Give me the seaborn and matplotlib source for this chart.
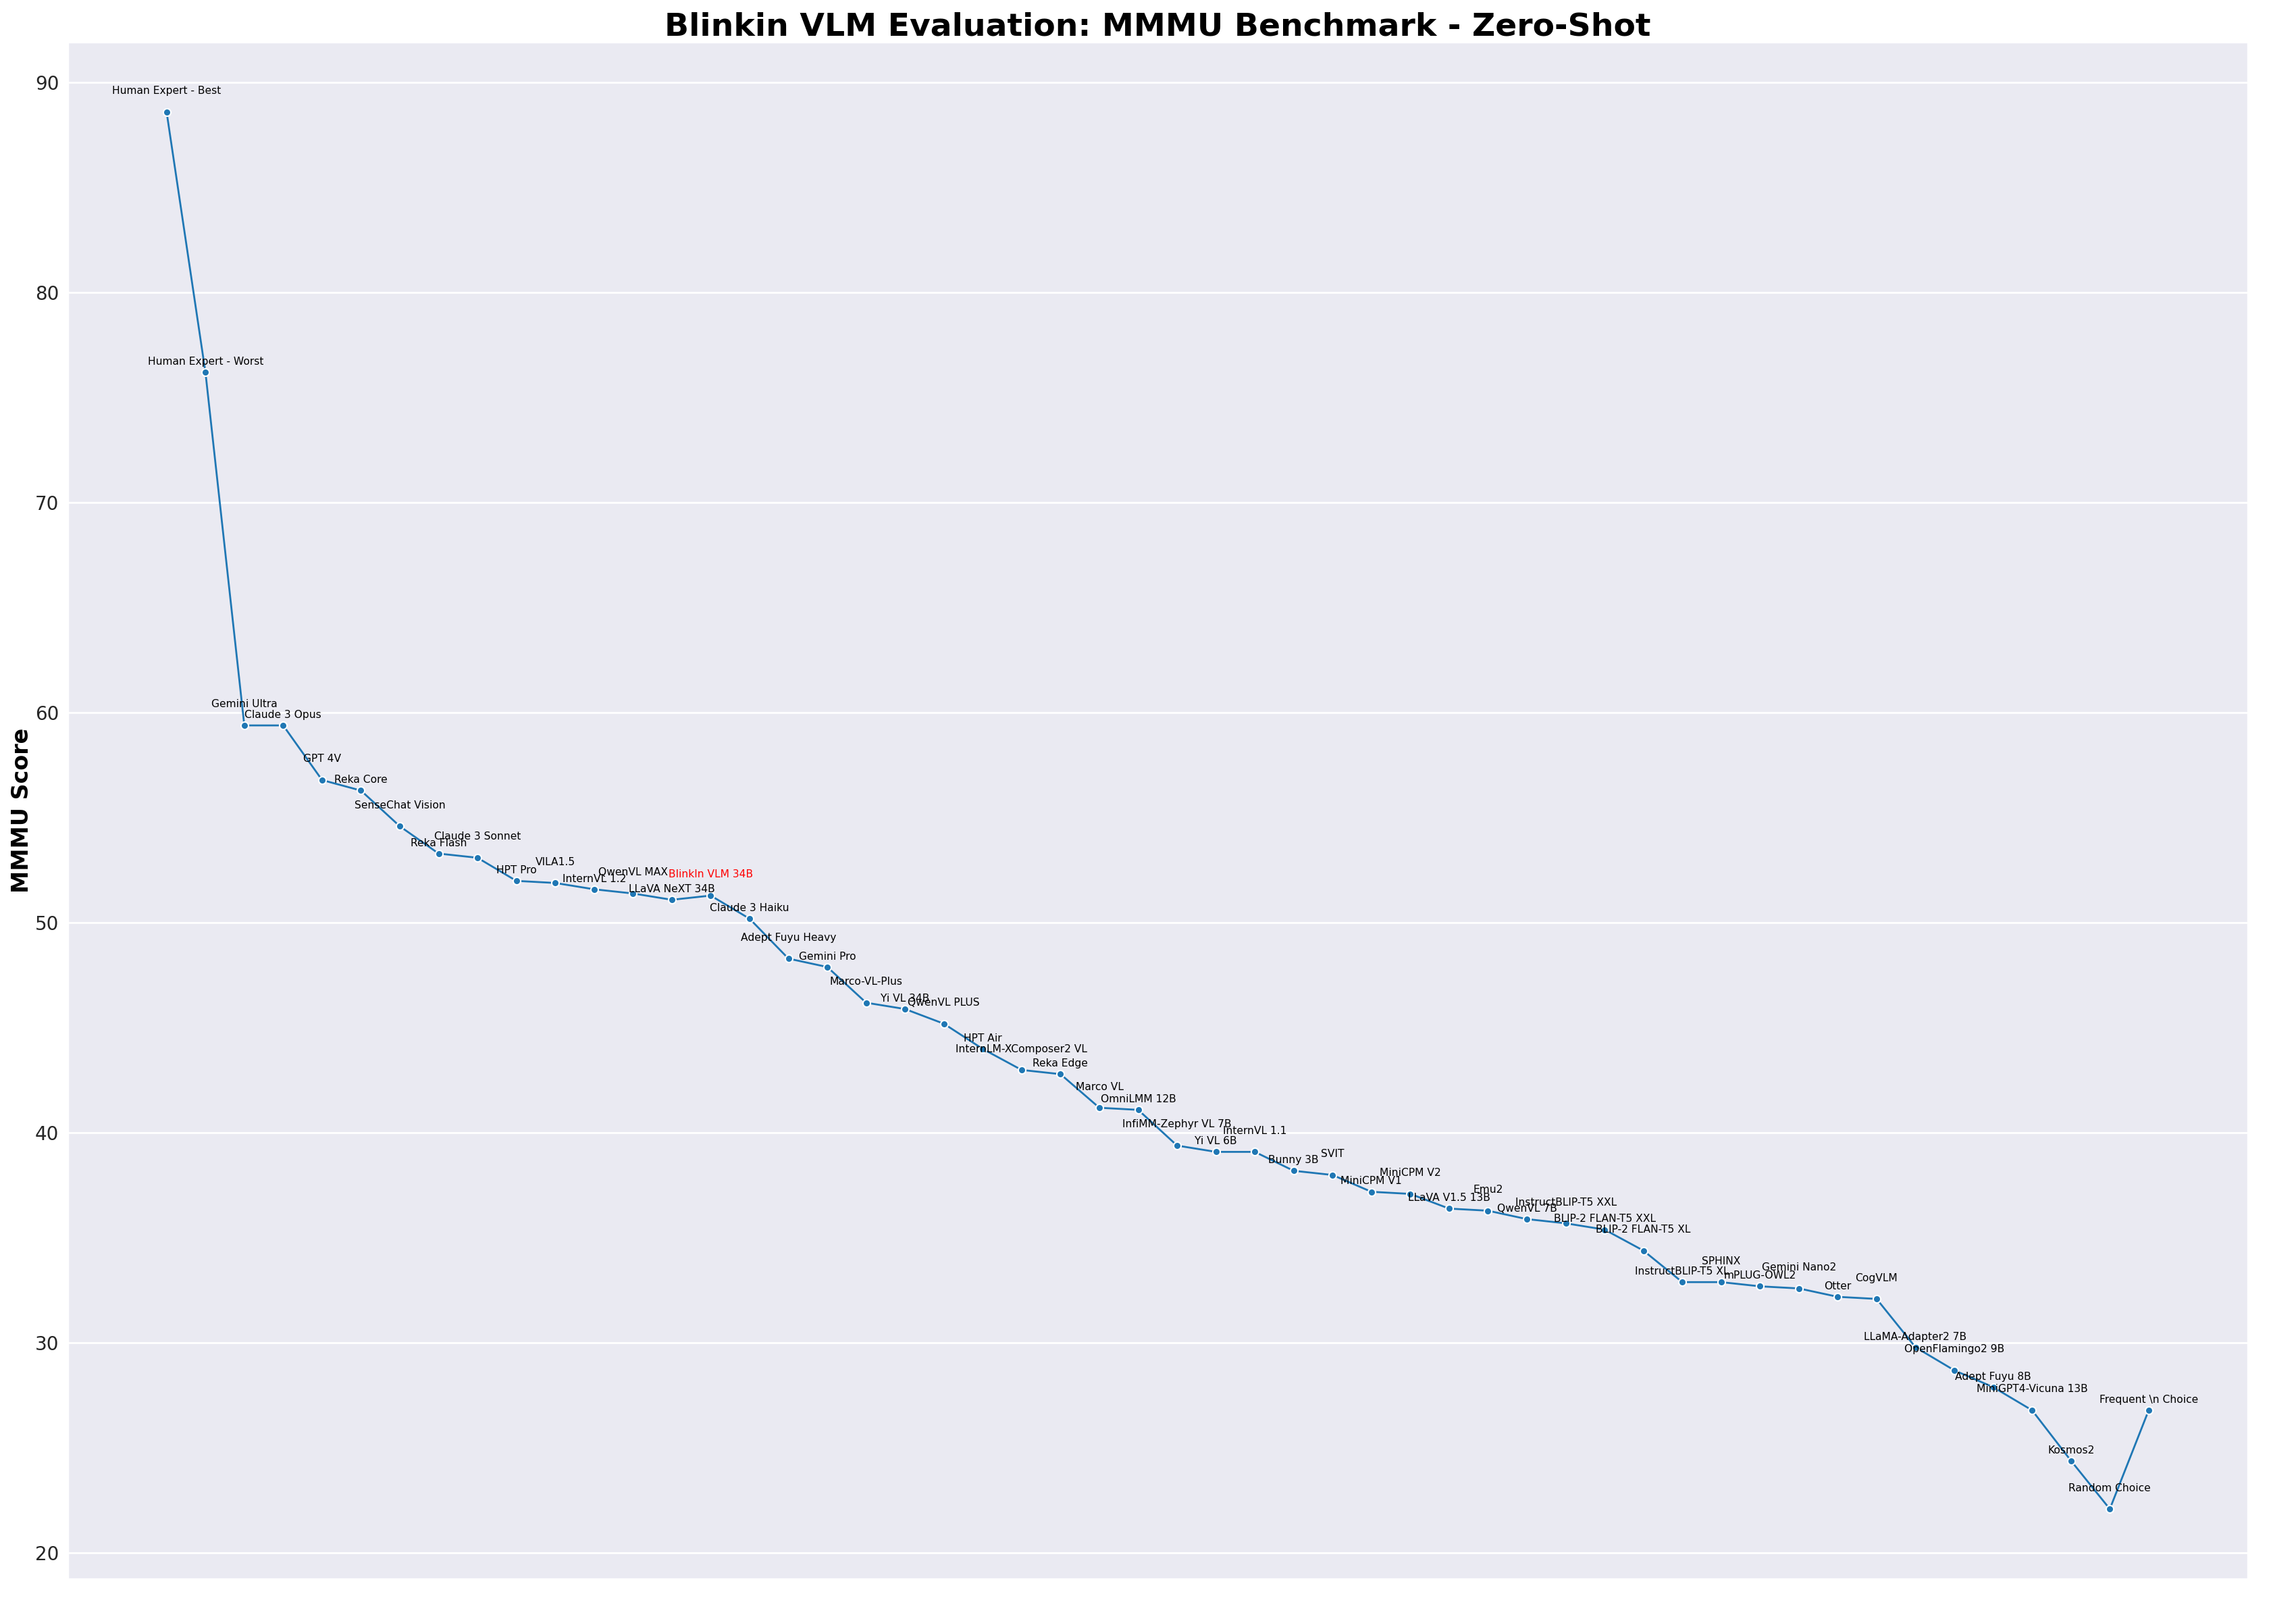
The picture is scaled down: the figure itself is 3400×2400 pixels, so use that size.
import matplotlib
matplotlib.use("Agg")
import matplotlib.pyplot as plt
import pandas as pd
import seaborn as sns


MODELS = [
    "Human Expert - Best", "Human Expert - Worst", "Gemini Ultra", "Claude 3 Opus",
    "GPT 4V", "Reka Core", "SenseChat Vision", "Reka Flash", "Claude 3 Sonnet",
    "HPT Pro", "VILA1.5", "InternVL 1.2", "QwenVL MAX", "LLaVA NeXT 34B",
    "BlinkIn VLM 34B", "Claude 3 Haiku", "Adept Fuyu Heavy", "Gemini Pro",
    "Marco-VL-Plus", "Yi VL 34B", "QwenVL PLUS", "HPT Air", "InternLM-XComposer2 VL",
    "Reka Edge", "Marco VL", "OmniLMM 12B", "InfiMM-Zephyr VL 7B", "Yi VL 6B",
    "InternVL 1.1", "Bunny 3B", "SVIT", "MiniCPM V1", "MiniCPM V2", "LLaVA V1.5 13B",
    "Emu2", "QwenVL 7B", "InstructBLIP-T5 XXL", "BLIP-2 FLAN-T5 XXL",
    "BLIP-2 FLAN-T5 XL", "InstructBLIP-T5 XL", "SPHINX", "mPLUG-OWL2", "Gemini Nano2",
    "Otter", "CogVLM", "LLaMA-Adapter2 7B", "OpenFlamingo2 9B", "Adept Fuyu 8B",
    "MiniGPT4-Vicuna 13B", "Kosmos2", "Random Choice", "Frequent \\n Choice",
]

SCORES = [
    88.6, 76.2, 59.4, 59.4,
    56.8, 56.3, 54.6, 53.3, 53.1,
    52.0, 51.9, 51.6, 51.4, 51.1,
    51.3, 50.2, 48.3, 47.9,
    46.2, 45.9, 45.2, 44.0, 43.0,
    42.8, 41.2, 41.1, 39.4, 39.1,
    39.1, 38.2, 38.0, 37.2, 37.1, 36.4,
    36.3, 35.9, 35.7, 35.4,
    34.4, 32.9, 32.9, 32.7, 32.6,
    32.2, 32.1, 29.8, 28.7, 27.9,
    26.8, 24.4, 22.1, 26.8,
]

HIGHLIGHT = "BlinkIn VLM 34B"


def main() -> None:
    sns.set_theme(style="darkgrid")
    df = pd.DataFrame({"Model": MODELS, "Score": SCORES})

    fig, ax = plt.subplots(figsize=(17, 12), dpi=200)
    fig.subplots_adjust(left=0.0294, right=0.979, top=0.974, bottom=0.026)
    sns.lineplot(
        data=df,
        x="Model",
        y="Score",
        marker="o",
        sort=False,
        color="#1f77b4",
        linewidth=1.0,
        markersize=4,
        ax=ax,
    )

    # labels alternate between two heights to reduce overlap
    for i, row in df.iterrows():
        offset = 1.0 if i % 2 == 0 else 0.5
        ax.text(
            i,
            row["Score"] + offset,
            row["Model"],
            ha="center",
            va="center",
            fontsize=5.6,
            color="red" if row["Model"] == HIGHLIGHT else "black",
        )

    ax.set_xticks([])
    ax.set_xlabel("")
    ax.set_ylabel("MMMU Score", fontsize=12, fontweight="bold", labelpad=1, color="black")
    ax.tick_params(axis="y", labelsize=10, length=0, pad=4.5)
    ax.set_title(
        "Blinkin VLM Evaluation: MMMU Benchmark - Zero-Shot",
        fontsize=17,
        fontweight="bold",
        pad=2.5,
        color="black",
    )

    fig.savefig("out.png", dpi=200)
    plt.close(fig)


if __name__ == "__main__":
    main()
